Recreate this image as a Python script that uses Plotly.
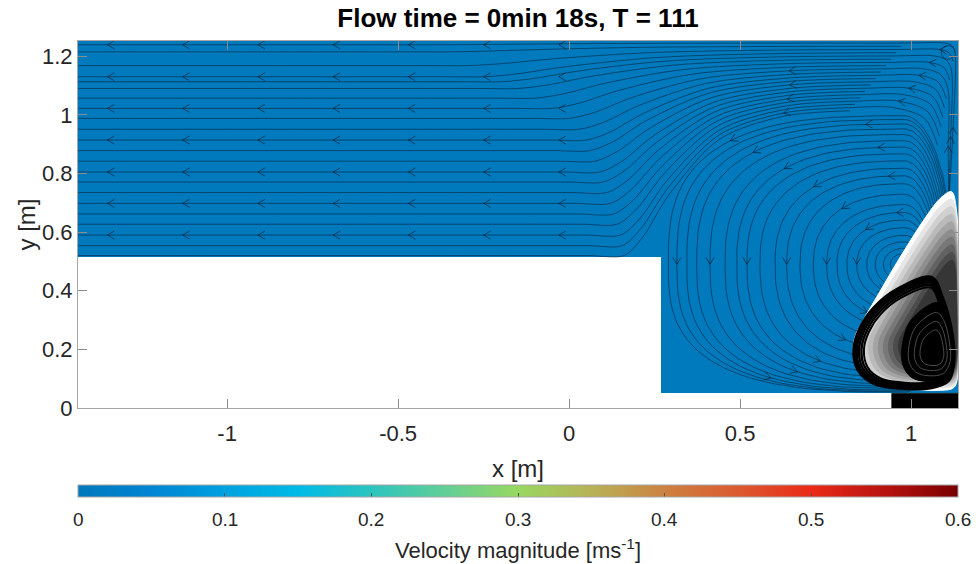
import numpy as np
import plotly.graph_objects as go

FONT = "Liberation Sans, Arial, sans-serif"
TXT = "#262626"

# ---------------- axes ----------------
X_RANGE = [-1.436, 1.137]
Y_RANGE = [0.0, 1.252]
X_TICKS = [-1, -0.5, 0, 0.5, 1]
X_TICK_TEXT = ["-1", "-0.5", "0", "0.5", "1"]
Y_TICKS = [0, 0.2, 0.4, 0.6, 0.8, 1.0, 1.2]
Y_TICK_TEXT = ["0", "0.2", "0.4", "0.6", "0.8", "1", "1.2"]

# ---------------- velocity-magnitude field (cells) ----------------
FIELD_X_EDGES = [-1.436, 0.269, 0.943, 1.137]
FIELD_Y_EDGES = [0.0, 0.05, 0.514, 1.252]
FIELD_VELOCITY = [[None, None, None],
                  [None, 0.0, 0.0],
                  [0.0, 0.0, 0.0]]

CB_TICKS = [0, 0.1, 0.2, 0.3, 0.4, 0.5, 0.6]
CB_TICK_TEXT = ["0", "0.1", "0.2", "0.3", "0.4", "0.5", "0.6"]
CB_MAX = 0.6
CB_STOP_VALUES = [0.0, 0.05, 0.1, 0.15, 0.2, 0.25, 0.3, 0.35, 0.4, 0.45, 0.5, 0.55, 0.6]
CB_STOP_COLORS = ["#0079bd", "#0084d4", "#00a2df", "#00bae6", "#2dc4bf", "#62ce97",
                  "#98d860", "#b8b257", "#cc8240", "#dc5a30", "#ea2a17", "#b8120f", "#780000"]

# outlet block (black) at bottom right
OUTLET_X = [0.943, 1.137, 1.137, 0.943, 0.943]
OUTLET_Y = [0.0, 0.0, 0.05, 0.05, 0.0]

# ---------------- streamlines: channel lines ----------------
CHANNEL_Y_LEFT = [1.239, 1.215, 1.168, 1.130, 1.113, 1.090, 1.057, 1.022, 0.988, 0.951, 0.914,
                  0.878, 0.842, 0.805, 0.771, 0.735, 0.698, 0.662, 0.627, 0.590, 0.554, 0.520]
CHANNEL_Y_TOP = [1.245, 1.234, 1.223, 1.212, 1.201, 1.190, 1.179, 1.168, 1.157, 1.146, 1.135,
                 1.124, 1.113, 1.102, 1.091, 1.080, 1.069, 1.058, 1.047, 1.036, 1.025, 1.014]
CHANNEL_X_BEND = [-0.40, -0.35, -0.30, -0.25, -0.20, -0.15, -0.10, -0.05, 0.00, 0.03, 0.05,
                  0.06, 0.075, 0.09, 0.10, 0.11, 0.12, 0.13, 0.14, 0.15, 0.155, 0.16]
CHANNEL_ARROW_X = [-1.35, -1.13, -0.91, -0.69, -0.47, -0.25, -0.03]
CHANNEL_ARROW_ROWS = [1.239, 1.130, 1.022, 0.914, 0.805, 0.698, 0.590]

# ---------------- streamlines: recirculation loops ----------------
VORTEX_CENTER = (0.98, 0.49)
LOOP_LEFT_X = [0.958, 0.939, 0.919, 0.895, 0.870, 0.841, 0.812, 0.783, 0.753, 0.714, 0.675,
               0.636, 0.602, 0.558, 0.520, 0.490, 0.456, 0.412, 0.373, 0.344, 0.315, 0.290]
LOOP_TOP_Y = [0.510, 0.527, 0.545, 0.567, 0.589, 0.615, 0.641, 0.667, 0.694, 0.729, 0.765,
              0.792, 0.818, 0.843, 0.867, 0.890, 0.912, 0.933, 0.952, 0.969, 0.984, 0.997]
LOOP_BOTTOM_Y = [0.469, 0.451, 0.432, 0.409, 0.386, 0.358, 0.330, 0.303, 0.274, 0.237, 0.200,
                 0.165, 0.140, 0.120, 0.104, 0.092, 0.082, 0.074, 0.067, 0.061, 0.057, 0.054]

# small corner eddy (top right)
EDDY_CENTER = (1.108, 1.213)
EDDY_RADIUS = 0.02

# ---------------- particle plume ----------------
BLOB_X = [1.118, 1.132, 1.137, 1.137, 1.125, 1.08, 1.0, 0.92, 0.86, 0.832, 0.835, 0.86,
          0.905, 0.95, 1.0, 1.045, 1.085, 1.118]
BLOB_Y = [0.738, 0.68, 0.5, 0.12, 0.07, 0.06, 0.064, 0.075, 0.11, 0.18, 0.24, 0.30,
          0.39, 0.48, 0.575, 0.655, 0.715, 0.738]
BLOB_ANCHOR = (1.125, 0.22)
BLOB_LAYER_SCALE = [1.0, 0.95, 0.90, 0.85, 0.80, 0.75, 0.70, 0.65, 0.60, 0.55]
BLOB_LAYER_GRAY = ["#ffffff", "#e6e6e6", "#d0d0d0", "#bababa", "#a4a4a4", "#8e8e8e",
                   "#787878", "#626262", "#4c4c4c", "#363636"]
BLACK_LOOP_X = [1.06, 0.96, 0.89, 0.85, 0.833, 0.845, 0.89, 0.97, 1.06, 1.11, 1.125, 1.115,
                1.09, 1.06]
BLACK_LOOP_Y = [0.445, 0.405, 0.34, 0.27, 0.20, 0.13, 0.085, 0.068, 0.07, 0.095, 0.17, 0.28,
                0.38, 0.445]
BLACK_LOOP_ANCHOR = (1.04, 0.20)
BLACK_LOOP_SCALE = [1.0, 0.965, 0.93, 0.895, 0.86]
INNER_X = [1.075, 1.0, 0.975, 0.975, 1.0, 1.05, 1.1, 1.125, 1.12, 1.10, 1.075]
INNER_Y = [0.36, 0.30, 0.22, 0.15, 0.105, 0.09, 0.10, 0.15, 0.25, 0.33, 0.36]
INNER_SWIRL_ANCHOR = (1.07, 0.19)
INNER_SWIRL_SCALE = [0.8, 0.62, 0.45]

# ---------------- helpers ----------------
PX_X = 880 / (X_RANGE[1] - X_RANGE[0])
PX_Y = 367 / (Y_RANGE[1] - Y_RANGE[0])
LINE_COLOR = "rgba(0,18,30,0.82)"


def py2paper(py):
    return (408 - py) / 367


def chevrons(points, dirs, L=8.0, ang=30.0):
    xs, ys = [], []
    for (x, y), (dx, dy) in zip(points, dirs):
        ux, uy = dx * PX_X, dy * PX_Y
        n = np.hypot(ux, uy)
        if n == 0:
            continue
        ux, uy = ux / n, uy / n
        ends = []
        for s in (1, -1):
            a = np.radians(180 + s * ang)
            bx = ux * np.cos(a) - uy * np.sin(a)
            by = ux * np.sin(a) + uy * np.cos(a)
            ends.append((x + L * bx / PX_X, y + L * by / PX_Y))
        xs += [ends[0][0], x, ends[1][0], None]
        ys += [ends[0][1], y, ends[1][1], None]
    return xs, ys


def scaled(xs, ys, anchor, sc):
    return ([anchor[0] + (v - anchor[0]) * sc for v in xs],
            [anchor[1] + (v - anchor[1]) * sc for v in ys])


fig = go.Figure()

cscale = [[v / CB_MAX, c] for v, c in zip(CB_STOP_VALUES, CB_STOP_COLORS)]
fig.add_trace(go.Heatmap(
    x=FIELD_X_EDGES, y=FIELD_Y_EDGES, z=FIELD_VELOCITY, zmin=0, zmax=CB_MAX,
    colorscale=cscale, hoverinfo="skip",
    colorbar=dict(orientation="h", x=0.5, xanchor="center", y=py2paper(485), yanchor="top",
                  len=1, lenmode="fraction", thickness=12, outlinewidth=1, outlinecolor="#a6a6a6",
                  xpad=0, ypad=0, tickvals=CB_TICKS, ticks="inside", ticklen=4,
                  tickcolor="#555555", showticklabels=False)))

arrow_pts, arrow_dirs = [], []

# channel streamlines
for i, (yl, yt, xb) in enumerate(zip(CHANNEL_Y_LEFT, CHANNEL_Y_TOP, CHANNEL_X_BEND)):
    d = yt - yl
    rr = 0.03 + 0.45 * (1.245 - yt)
    xw = 1.128 - 0.23 * (1.245 - yt)
    xpk = xw - rr - 0.12
    xs = [X_RANGE[0], xb - 0.3, xb - 0.1]
    ys = [yl, yl, yl]
    for f, g in zip([0.0, 0.08, 0.2, 0.42, 0.7, 1.0], [0.0, 0.12, 0.42, 0.8, 0.96, 1.0]):
        xs.append(xb + (xpk - xb) * f)
        ys.append(yl + d * g)
    ccx, ccy = xw - rr, yt - rr
    xs += [ccx, ccx + 0.707 * rr, xw, xw + 0.3 * (1.11 - xw), 1.11]
    ys += [yt, ccy + 0.707 * rr, ccy, (ccy + 0.70) / 2, 0.70]
    if i % 2 == 1:
        last = 8            # stops part-way along the fan
    elif i % 4 == 2 or i >= 12:
        last = 11           # stops after turning down
    else:
        last = len(xs) - 1  # runs down the right wall into the plume
    fig.add_trace(go.Scatter(x=xs[:last + 1], y=ys[:last + 1], mode="lines",
                             line=dict(color=LINE_COLOR, width=0.6, shape="spline",
                                       smoothing=0.9),
                             hoverinfo="skip"))
    if yl in CHANNEL_ARROW_ROWS:
        for ax in CHANNEL_ARROW_X:
            arrow_pts.append((ax, yl))
            arrow_dirs.append((-1.0, 0.0))
    ks = []
    if i % 4 == 0 and i > 6:
        ks.append(7)
    if i % 4 == 2:
        ks.append(9)
    if i in (0, 4, 8, 12, 16):
        ks.append(11 if i >= 12 else 12)
    for k in ks:
        if k >= last:
            continue
        arrow_pts.append((xs[k], ys[k]))
        arrow_dirs.append((xs[k - 1] - xs[k + 1], ys[k - 1] - ys[k + 1]))

# recirculation loops
cx, cy = VORTEX_CENTER
th = np.linspace(0, 2 * np.pi, 145)
for i, (xl, yt, yb) in enumerate(zip(LOOP_LEFT_X, LOOP_TOP_Y, LOOP_BOTTOM_Y)):
    al = cx - xl
    ar = min(0.8 * al, 0.05 + 0.09 * al / 0.69)
    bt, bb = yt - cy, cy - yb
    n = 2 + 0.9 * al / 0.69
    c, s = np.cos(th), np.sin(th)
    nx = np.where(c >= 0, 2.0, n)
    px = np.sign(c) * np.abs(c) ** (2 / nx)
    py = np.sign(s) * np.abs(s) ** (2 / nx)
    x = cx + np.where(c >= 0, ar, al) * px
    y = cy + np.where(s >= 0, bt, bb) * py
    fig.add_trace(go.Scatter(x=x, y=y, mode="lines", line=dict(color=LINE_COLOR, width=0.6),
                             hoverinfo="skip"))
    if i < 4:
        continue
    idxs = []
    if i % 3 == 2:
        idxs.append(72)
    if i % 3 == 0:
        idxs.append(52)
    if i % 3 == 1:
        idxs.append(96)
    if i % 4 == 3:
        idxs.append(38)
    for k in idxs:
        arrow_pts.append((x[k], y[k]))
        arrow_dirs.append((x[k + 1] - x[k - 1], y[k + 1] - y[k - 1]))

# tiny eddy at top right
ex = EDDY_CENTER[0] + EDDY_RADIUS * np.cos(th[:130])
ey = EDDY_CENTER[1] + EDDY_RADIUS * PX_X / PX_Y * np.sin(th[:130])
fig.add_trace(go.Scatter(x=ex, y=ey, mode="lines", line=dict(color=LINE_COLOR, width=0.6),
                         hoverinfo="skip"))

axs, ays = chevrons(arrow_pts, arrow_dirs)
fig.add_trace(go.Scatter(x=axs, y=ays, mode="lines", line=dict(color=LINE_COLOR, width=0.7),
                         hoverinfo="skip"))

# particle plume layers
for sc, col in zip(BLOB_LAYER_SCALE, BLOB_LAYER_GRAY):
    bx, by = scaled(BLOB_X, BLOB_Y, BLOB_ANCHOR, sc)
    fig.add_trace(go.Scatter(x=bx, y=by, mode="lines", fill="toself", fillcolor=col,
                             line=dict(color=col, width=1, shape="spline"), hoverinfo="skip"))
for sc, w in zip(BLACK_LOOP_SCALE, [3.5, 3, 2.5, 2.5, 2]):
    bx, by = scaled(BLACK_LOOP_X, BLACK_LOOP_Y, BLACK_LOOP_ANCHOR, sc)
    fig.add_trace(go.Scatter(x=bx, y=by, mode="lines",
                             line=dict(color="black", width=w, shape="spline"),
                             hoverinfo="skip"))
fig.add_trace(go.Scatter(x=INNER_X, y=INNER_Y, mode="lines", fill="toself", fillcolor="black",
                         line=dict(color="black", width=1, shape="spline"), hoverinfo="skip"))
for sc in INNER_SWIRL_SCALE:
    bx, by = scaled(INNER_X, INNER_Y, INNER_SWIRL_ANCHOR, sc)
    fig.add_trace(go.Scatter(x=bx, y=by, mode="lines",
                             line=dict(color="#4a4a4a", width=1, shape="spline"),
                             hoverinfo="skip"))
fig.add_trace(go.Scatter(x=OUTLET_X, y=OUTLET_Y, mode="lines", fill="toself", fillcolor="black",
                         line=dict(color="black", width=0.5), hoverinfo="skip"))

# colorbar tick labels and title (as text)
annotations = []
for v, t in zip(CB_TICKS, CB_TICK_TEXT):
    annotations.append(dict(text=t, x=v / CB_MAX, xref="paper", y=py2paper(519), yref="paper",
                            xanchor="center", yanchor="middle", showarrow=False,
                            font=dict(size=19, color=TXT, family=FONT)))
annotations.append(dict(text="Velocity magnitude [ms<sup>-1</sup>]", x=0.5, xref="paper",
                        y=py2paper(549), yref="paper", xanchor="center", yanchor="middle",
                        showarrow=False, font=dict(size=22, color=TXT, family=FONT)))
annotations.append(dict(text="x [m]", x=0.5, xref="paper", y=py2paper(469), yref="paper",
                        xanchor="center", yanchor="middle", showarrow=False,
                        font=dict(size=24, color=TXT, family=FONT)))
annotations.append(dict(text="y [m]", x=(26 - 78) / 880, xref="paper", y=0.5, yref="paper",
                        xanchor="center", yanchor="middle", textangle=-90, showarrow=False,
                        font=dict(size=24, color=TXT, family=FONT)))

fig.update_layout(
    width=976, height=564, margin=dict(l=78, r=18, t=41, b=156),
    paper_bgcolor="white", plot_bgcolor="white", showlegend=False,
    font=dict(family=FONT, color=TXT),
    title=dict(text="<b>Flow time = 0min 18s, T = 111</b>", x=0.5, xref="paper", xanchor="center",
               y=1 - 18 / 564, yref="container", yanchor="middle",
               font=dict(size=26, color="black", family=FONT)),
    annotations=annotations,
)
fig.update_xaxes(range=X_RANGE, tickvals=X_TICKS, ticktext=X_TICK_TEXT, ticks="inside",
                 ticklen=9, tickcolor="#8c8c8c", showline=True, linecolor="#a6a6a6", linewidth=1,
                 mirror="allticks", showgrid=False, zeroline=False, ticklabelstandoff=6,
                 tickfont=dict(size=22, color=TXT))
fig.update_yaxes(range=Y_RANGE, tickvals=Y_TICKS, ticktext=Y_TICK_TEXT, ticks="inside",
                 ticklen=9, tickcolor="#8c8c8c", showline=True, linecolor="#a6a6a6", linewidth=1,
                 mirror="allticks", showgrid=False, zeroline=False,
                 tickfont=dict(size=22, color=TXT))

fig.write_html("out.html")
